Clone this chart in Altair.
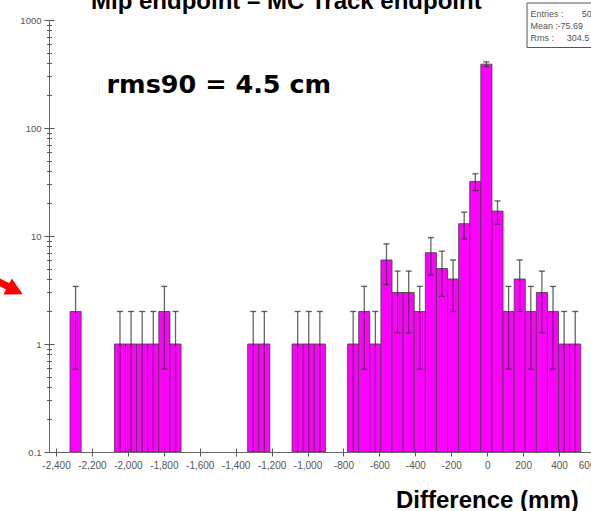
import altair as alt
import pandas as pd

# ---------------- data ----------------
bin_left = [-2322.0,
            -2074.8, -2013.0, -1951.2, -1889.4, -1827.6, -1765.8,
            -1333.2, -1271.4,
            -1086.0, -1024.2, -962.4,
            -777.0, -715.2, -653.4, -591.6, -529.8, -468.0, -406.2, -344.4,
            -282.6, -220.8, -159.0, -97.2, -35.4, 26.4, 88.2, 150.0, 211.8,
            273.6, 335.4, 397.2, 459.0]
counts = [2,
          1, 1, 1, 1, 2, 1,
          1, 1,
          1, 1, 1,
          1, 2, 1, 6, 3, 3, 2, 7,
          5, 4, 13, 32, 390, 17, 2, 4, 2,
          3, 2, 1, 1]
bin_width = 61.8

x_ticks = [-2400, -2200, -2000, -1800, -1600, -1400, -1200, -1000, -800,
           -600, -400, -200, 0, 200, 400, 600]
y_major = [0.1, 1, 10, 100, 1000]
y_ticks = [m * 10.0 ** e for e in range(-1, 3) for m in range(1, 10)] + [1000]

title_text = "Mip endpoint \u2013 MC Track endpoint"
rms_text = "rms90 = 4.5 cm"
xlabel_text = "Difference (mm)"
stats_labels = ["Entries :", "Mean :", "Rms :"]
stats_values = ["508", "-75.69", "304.5"]

W, H = 542, 432
PAD_L, PAD_T = 49, 20

df = pd.DataFrame({"lo": bin_left, "n": counts})

base = alt.Chart(df).transform_calculate(
    hi=f"datum.lo + {bin_width}",
    mid=f"datum.lo + {bin_width} / 2",
    floor="0.1",
    eup="datum.n + sqrt(datum.n)",
    elo="max(datum.n - sqrt(datum.n), 0.1)",
)

xscale = alt.Scale(domain=[-2439, 600], range=[0, 546], nice=False, zero=False)
yscale = alt.Scale(type="log", domain=[0.1, 1000], nice=False)

major_test = "indexof([0.1, 1, 10, 100, 1000], datum.value) >= 0"
y_ticksize = {"condition": {"test": major_test, "value": 5}, "value": 2.5}

bars = base.mark_rect(color="#FF00FF", stroke="#444", strokeWidth=1, strokeOpacity=0.85).encode(
    x=alt.X("lo:Q", scale=xscale, title=None,
            axis=alt.Axis(orient="bottom", values=x_ticks, tickSize=4,
                          labelExpr="replace(format(datum.value, ','), '\u2212', '-')",
                          labelFont="Liberation Sans", labelFontSize=10,
                          labelColor="#555", labelPadding=4, tickColor="#555",
                          domainColor="#666", grid=False, zindex=1)),
    x2="hi:Q",
    y=alt.Y("n:Q", scale=yscale, title=None,
            axis=alt.Axis(orient="left", values=y_ticks, tickSize=y_ticksize,
                          labelExpr=major_test + " ? datum.value + '' : ''",
                          labelFont="Liberation Sans", labelFontSize=9.5,
                          labelColor="#555", labelPadding=3, tickColor="#555",
                          domainColor="#666", grid=False, zindex=1)),
    y2="floor:Q",
)

err = base.mark_rule(color="#333", strokeWidth=1.3, opacity=0.75).encode(
    x=alt.X("mid:Q", title=None,
            axis=alt.Axis(orient="top", offset=-H, values=x_ticks, tickSize=4,
                          labels=False, domain=False, tickColor="#555",
                          grid=False, zindex=1)),
    y=alt.Y("elo:Q", title=None,
            axis=alt.Axis(orient="right", offset=-W, values=y_ticks,
                          tickSize=y_ticksize, labels=False, domain=False,
                          tickColor="#555", grid=False, zindex=1)),
    y2="eup:Q",
)

cap_top = base.mark_tick(orient="horizontal", color="#333", size=6, thickness=1.3,
                         opacity=0.8).encode(
    x=alt.X("mid:Q", axis=None), y=alt.Y("eup:Q", axis=None))
cap_bot = base.transform_filter("datum.elo > 0.1").mark_tick(
    orient="horizontal", color="#333", size=6, thickness=1.3, opacity=0.8).encode(
    x=alt.X("mid:Q", axis=None), y=alt.Y("elo:Q", axis=None))

title = alt.Chart(pd.DataFrame({"t": [title_text]})).mark_text(
    font="Liberation Sans", fontWeight="bold", fontSize=24, align="left",
    baseline="alphabetic", color="black").encode(
    text="t:N", x=alt.value(91 - PAD_L), y=alt.value(8.5 - PAD_T))

rms = alt.Chart(pd.DataFrame({"t": [rms_text]})).mark_text(
    font="DejaVu Sans", fontWeight="bold", fontSize=25.5, align="left",
    baseline="alphabetic", color="black").encode(
    text="t:N", x=alt.value(106.5 - PAD_L), y=alt.value(93.3 - PAD_T))

xlabel = alt.Chart(pd.DataFrame({"t": [xlabel_text]})).mark_text(
    font="Liberation Sans", fontWeight="bold", fontSize=24, align="left",
    baseline="alphabetic", color="black").encode(
    text="t:N", x=alt.value(396 - PAD_L), y=alt.value(507.5 - PAD_T))

box = alt.Chart(pd.DataFrame({"a": [0]})).mark_rect(
    fill="white", stroke="#555", strokeWidth=1).encode(
    x=alt.value(527 - PAD_L), x2=alt.value(640), y=alt.value(3 - PAD_T),
    y2=alt.value(47.5 - PAD_T))

stat_rows = pd.DataFrame({
    "lab": stats_labels, "val": stats_values,
    "yy": [17.3 - PAD_T, 29.3 - PAD_T, 41 - PAD_T],
    "xv": [581.7 - PAD_L, 557.5 - PAD_L, 566.7 - PAD_L],
})
stat_lab = alt.Chart(stat_rows).mark_text(
    font="Liberation Sans", fontSize=9, align="left", baseline="alphabetic",
    color="#555").encode(text="lab:N", x=alt.value(530.5 - PAD_L),
                          y=alt.Y("yy:Q", scale=None, axis=None))
stat_val = alt.Chart(stat_rows).mark_text(
    font="Liberation Sans", fontSize=9, align="left", baseline="alphabetic",
    color="#555").encode(text="val:N", x=alt.X("xv:Q", scale=None, axis=None),
                          y=alt.Y("yy:Q", scale=None, axis=None))

arrow_path = ("M-0.895,-0.667 L0.285,-0.047 L0.456,-0.373 L1.18,0.687 "
              "L-0.102,0.693 L0.068,0.367 L-1.112,-0.253 Z")
arrow = alt.Chart(pd.DataFrame({"a": [0]})).mark_point(
    shape=arrow_path, filled=True, color="#FF0000", size=900, opacity=1).encode(
    x=alt.value(5 - PAD_L), y=alt.value(284 - PAD_T))

chart = alt.layer(
    bars, err, cap_top, cap_bot, title, rms, xlabel, box, stat_lab, stat_val, arrow
).resolve_scale(x="shared", y="shared").resolve_axis(
    x="independent", y="independent"
).properties(
    width=W, height=H,
    autosize=alt.AutoSizeParams(type="none"),
    padding={"left": PAD_L, "top": PAD_T, "right": 0, "bottom": 511 - PAD_T - H},
    background="white",
).configure_view(stroke="transparent")

chart.save("out.html", embed_options={"renderer": "svg", "actions": False})
